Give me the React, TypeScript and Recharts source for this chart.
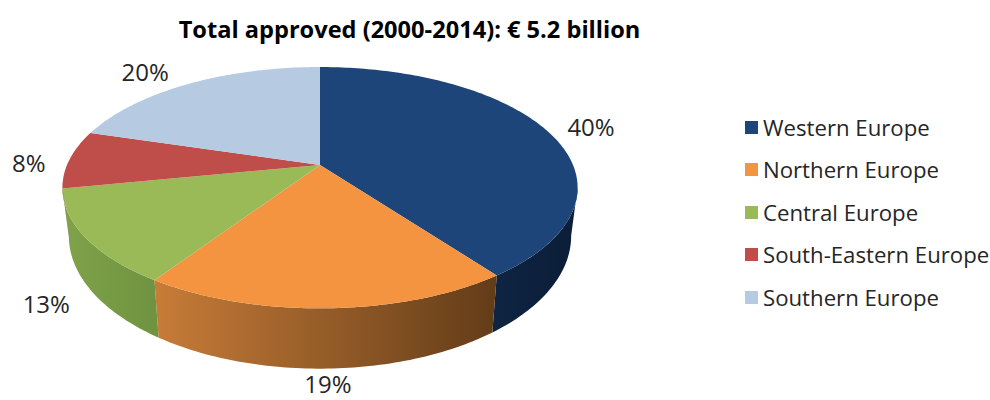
import { PieChart, Pie, Legend } from 'recharts';

// ─── Data ────────────────────────────────────────────
const REGIONS = ['Western Europe', 'Northern Europe', 'Central Europe', 'South-Eastern Europe', 'Southern Europe'];
// read from the slice seams; labels show them rounded
const SHARES = [39.9, 19.4, 12.6, 7.8, 20.3];
const TITLE = 'Total approved (2000-2014): € 5.2 billion';

// ─── Colours ─────────────────────────────────────────
const TOP_COLORS = ['#1e4579', '#f59440', '#9aba58', '#bf4e4b', '#b6cae2'];
const SIDE_LEFT = ['#0e2442', '#c87c38', '#80a24a', '#8c3a38', '#8496ac'];
const SIDE_RIGHT = ['#0b1d37', '#623c18', '#6f9340', '#8c3a38', '#8496ac'];
const FONT = '"Open Sans", sans-serif';
const TEXT = '#262626';

// ─── Fake 3D projection: tilted disc seen in perspective ─
const CX = 320;
const CY = 165;
const RADIUS = 253;
const TILT = 0.188;
const Y_SCALE = 116.4 / 253;
const VISIBLE_FROM = 100.8;
const VISIBLE_TO = 259.2;

function project(theta: number, r = RADIUS) {
  const rad = (theta * Math.PI) / 180;
  const x = Math.sin(rad);
  const y = -Math.cos(rad);
  const d = 1 - TILT * y;
  return { x: CX + (r * x) / d, y: CY + (r * Y_SCALE * y) / d };
}

function projectBottom(theta: number) {
  const p = project(theta);
  return { x: CX + (p.x - CX) * 0.975, y: CY + (p.y - CY) * 1.1 + 46 };
}

function arcPoints(from: number, to: number, fn: (t: number) => { x: number; y: number }) {
  const steps = Math.max(2, Math.ceil(Math.abs(to - from)));
  const pts: string[] = [];
  for (let i = 0; i <= steps; i++) {
    const p = fn(from + ((to - from) * i) / steps);
    pts.push(`${p.x.toFixed(2)} ${p.y.toFixed(2)}`);
  }
  return pts;
}

function Slice3D(props: any) {
  const { startAngle, endAngle, index } = props;
  // recharts angles run counter-clockwise from 3 o'clock
  const from = 90 - startAngle;
  const to = 90 - endAngle;
  const top = arcPoints(from, to, (t) => project(t));
  const topPath = `M${CX} ${CY} L${top.join(' L')} Z`;

  const sideFrom = Math.max(from, VISIBLE_FROM);
  const sideTo = Math.min(to, VISIBLE_TO);
  let side = null;
  if (sideTo > sideFrom) {
    const upper = arcPoints(sideFrom, sideTo, (t) => project(t));
    const lower = arcPoints(sideTo, sideFrom, projectBottom);
    const x1 = project(sideFrom).x;
    const x2 = project(sideTo).x;
    const id = `side-${index}`;
    side = (
      <g>
        <defs>
          <linearGradient id={id} gradientUnits="userSpaceOnUse" x1={Math.min(x1, x2)} x2={Math.max(x1, x2)} y1={0} y2={0}>
            <stop offset="0%" stopColor={SIDE_LEFT[index]} />
            <stop offset="100%" stopColor={SIDE_RIGHT[index]} />
          </linearGradient>
        </defs>
        <path d={`M${upper.join(' L')} L${lower.join(' L')} Z`} fill={`url(#${id})`} />
      </g>
    );
  }
  return (
    <g>
      {side}
      <path d={topPath} fill={TOP_COLORS[index]} />
    </g>
  );
}

// ─── Labels ──────────────────────────────────────────
const LABEL_SHIFT = [
  [44, -4],
  [0, 75],
  [-39, 66],
  [-41, 3],
  [-44, -12],
];

function SliceLabel(props: any) {
  const { midAngle, index, value } = props;
  const p = project(90 - midAngle);
  return (
    <text
      x={p.x + LABEL_SHIFT[index][0]}
      y={p.y + LABEL_SHIFT[index][1]}
      textAnchor="middle"
      dominantBaseline="central"
      fontFamily={FONT}
      fontSize={24}
      fill={TEXT}
    >
      {Math.round(value)}%
    </text>
  );
}

function RegionLegend() {
  return (
    <div style={{ fontFamily: FONT, fontSize: 22.2, color: TEXT }}>
      {REGIONS.map((name, i) => (
        <div key={name} style={{ display: 'flex', alignItems: 'center', height: 42.5, whiteSpace: 'nowrap' }}>
          <span style={{ width: 13, height: 13, marginRight: 5, flexShrink: 0, backgroundColor: TOP_COLORS[i] }} />
          {name}
        </div>
      ))}
    </div>
  );
}

const chartData = REGIONS.map((name, i) => ({ name, value: SHARES[i] }));

export default function App() {
  return (
    <div style={{ position: 'absolute', left: 0, top: 0, width: 990, height: 400, background: '#fff', overflow: 'hidden' }}>
      <div
        style={{
          position: 'absolute',
          left: 0,
          top: 13,
          width: 819,
          textAlign: 'center',
          fontFamily: FONT,
          fontWeight: 700,
          fontSize: 23.6,
          lineHeight: '32px',
          color: '#000',
        }}
      >
        {TITLE}
      </div>
      <PieChart width={990} height={400} margin={{ top: 0, right: 0, bottom: 0, left: 0 }}>
        <Pie
          data={chartData}
          dataKey="value"
          nameKey="name"
          cx={CX}
          cy={CY}
          outerRadius={RADIUS}
          startAngle={90}
          endAngle={-270}
          stroke="none"
          shape={Slice3D}
          label={SliceLabel}
          labelLine={false}
          isAnimationActive={false}
        />
        <Legend
          layout="vertical"
          content={<RegionLegend />}
          wrapperStyle={{ position: 'absolute', left: 745, top: 106, width: 245, height: 'auto', bottom: 'auto' }}
        />
      </PieChart>
    </div>
  );
}
